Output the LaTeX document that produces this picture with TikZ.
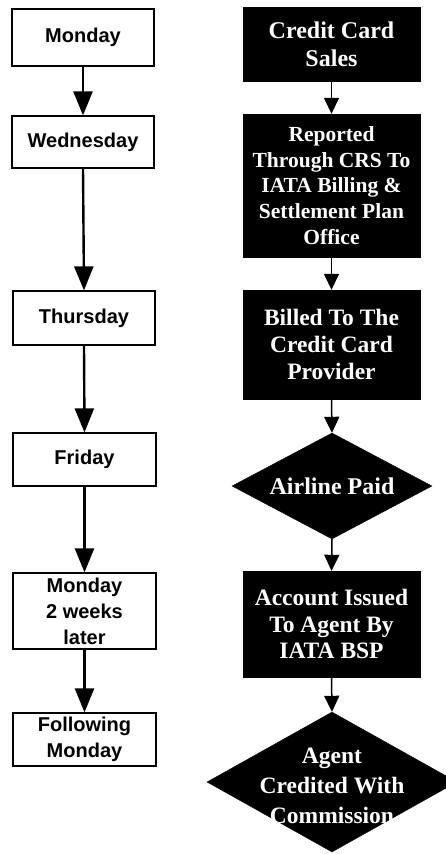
\documentclass[tikz,border=0pt]{standalone}
\usepackage{fontspec}
\setmainfont{Liberation Serif}
\setsansfont{Liberation Sans}
\usetikzlibrary{arrows.meta,shapes.geometric}

\tikzset{
  daybox/.style={draw=black, line width=1.2pt, fill=white, inner sep=0pt,
    align=center, font=\fontsize{20}{26}\selectfont\sffamily\bfseries},
  stagebox/.style={draw=black, fill=black, inner sep=0pt, text=white,
    align=center, minimum width=177pt, font=\bfseries},
  stagediamond/.style={diamond, draw=black, fill=black, inner sep=0pt},
  stagetext/.style={text=white, align=center, inner sep=0pt,
    font=\fontsize{23.5}{28}\selectfont\bfseries},
  dayarrow/.style={line width=2.4pt, -{Triangle[width=19pt,length=24pt]}},
  stagearrow/.style={line width=1.5pt, -{Triangle[width=15pt,length=16pt]}},
}

\begin{document}
\begin{tikzpicture}[x=1pt,y=-1pt]
  \useasboundingbox (0,0) rectangle (445,854);

  % timeline column
  \node[daybox, minimum width=142pt, minimum height=57pt] (mon)  at (83,37.5) {Monday};
  \node[daybox, minimum width=142pt, minimum height=52pt] (wed)  at (83,142) {Wednesday};
  \node[daybox, minimum width=142pt, minimum height=54pt] (thu)  at (84,318) {Thursday};
  \node[daybox, minimum width=143pt, minimum height=53pt] (fri)  at (84.5,459.5) {Friday};
  \node[daybox, minimum width=143pt, minimum height=76pt] (mon2) at (84.5,611) {Monday\\2 weeks\\later};
  \node[daybox, minimum width=143pt, minimum height=53pt] (fol)  at (84.5,739.5) {Following\\Monday};

  \draw[dayarrow] (mon.south)  -- (wed.north);
  \draw[dayarrow] (wed.south)  -- (thu.north);
  \draw[dayarrow] (thu.south)  -- (fri.north);
  \draw[dayarrow] (fri.south)  -- (mon2.north);
  \draw[dayarrow] (mon2.south) -- (fol.north);

  % settlement process column
  \node[stagebox, minimum height=74pt, font=\fontsize{24}{28}\selectfont\bfseries]
    (sales) at (331.5,44) {Credit Card\\Sales};
  \node[stagebox, minimum height=143pt, font=\fontsize{21.5}{25.7}\selectfont\bfseries]
    (report) at (331.5,185.5) {Reported\\Through CRS To\\IATA Billing \&\\Settlement Plan\\Office};
  \node[stagebox, minimum height=109pt, font=\fontsize{23.5}{27}\selectfont\bfseries]
    (billed) at (331.5,344.5) {Billed To The\\Credit Card\\Provider};
  \node[stagediamond, minimum width=200pt, minimum height=106pt] (paid) at (332,486) {};
  \node[stagetext, font=\fontsize{24}{28}\selectfont\bfseries] (paidtext) at (paid.center) {Airline Paid};
  \node[stagebox, minimum height=106pt, font=\fontsize{23.5}{26.5}\selectfont\bfseries]
    (account) at (331.5,624) {Account Issued\\To Agent By\\IATA BSP};
  \node[stagediamond, minimum width=250pt, minimum height=140pt] (agent) at (332,782) {};
  \node[stagetext, font=\fontsize{23.5}{30}\selectfont\bfseries] (agenttext) at (332,786)
    {Agent\\Credited With\\Commission};

  \draw[stagearrow] (sales.south)   -- (report.north);
  \draw[stagearrow] (report.south)  -- (billed.north);
  \draw[stagearrow] (billed.south)  -- (paid.north);
  \draw[stagearrow] (paid.south)    -- (account.north);
  \draw[stagearrow] (account.south) -- (agent.north);
\end{tikzpicture}
\end{document}
